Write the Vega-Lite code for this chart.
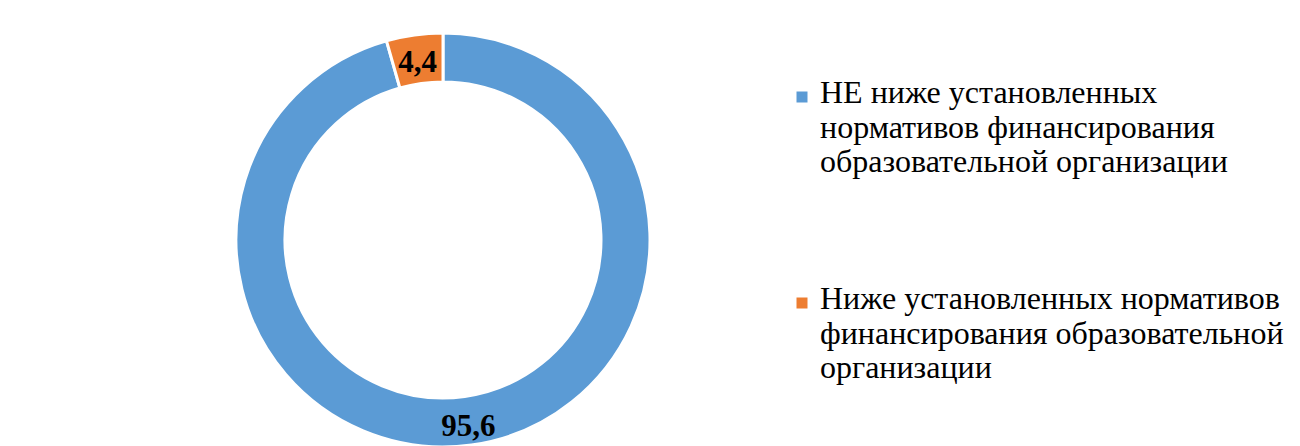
{
  "$schema": "https://vega.github.io/schema/vega-lite/v6.json",
  "width": 886,
  "height": 412,
  "autosize": {"type": "none"},
  "padding": {"left": 0, "top": 34, "right": 414, "bottom": 0},
  "background": "white",
  "config": {
    "view": {"stroke": null},
    "font": "Liberation Serif",
    "style": {"guide-label": {"lineHeight": 34.5, "dy": -19}}
  },
  "data": {
    "values": [
      {"category": "НЕ ниже установленных\nнормативов финансирования\nобразовательной организации", "value": 95.6, "label": "95,6", "order": 1},
      {"category": "Ниже установленных нормативов\nфинансирования образовательной\nорганизации", "value": 4.4, "label": "4,4", "order": 2}
    ]
  },
  "encoding": {
    "theta": {"field": "value", "type": "quantitative", "stack": true},
    "order": {"field": "order", "type": "quantitative"}
  },
  "layer": [
    {
      "mark": {"type": "arc", "radius": 207, "radius2": 158, "stroke": "white", "strokeWidth": 3},
      "encoding": {
        "color": {
          "field": "category",
          "type": "nominal",
          "sort": null,
          "scale": {"range": ["#5B9BD5", "#ED7D31"]},
          "legend": {
            "orient": "none",
            "legendX": 786,
            "legendY": 47,
            "title": null,
            "symbolType": "square",
            "symbolSize": 121,
            "symbolStrokeWidth": 0,
            "labelFontSize": 32,
            "labelFont": "Liberation Serif",
            "labelColor": "black",
            "labelOffset": 2,
            "labelLimit": 0,
            "labelBaseline": "top",
            "rowPadding": 105,
            "padding": 0,
            "labelExpr": "split(datum.label, '\\n')"
          }
        }
      }
    },
    {
      "mark": {"type": "text", "radius": 184, "fontSize": 31, "fontWeight": "bold", "dy": 5, "color": "black", "font": "Liberation Serif"},
      "encoding": {
        "text": {"field": "label"},
        "detail": {"field": "category"}
      }
    }
  ]
}
